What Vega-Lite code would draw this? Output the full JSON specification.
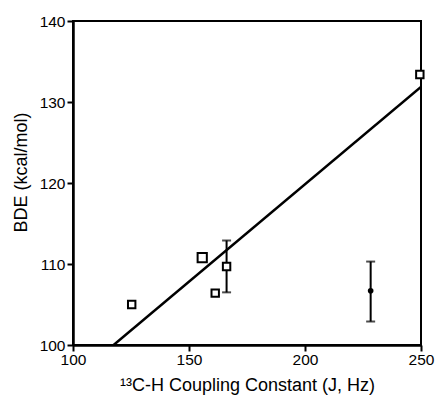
{
  "$schema": "https://vega.github.io/schema/vega-lite/v6.json",
  "autosize": {"type": "none"},
  "width": 348,
  "height": 324,
  "padding": {"left": 73, "top": 21, "right": 14, "bottom": 51},
  "background": "white",
  "config": {
    "font": "Liberation Sans",
    "view": {"stroke": "black", "strokeWidth": 2},
    "axis": {
      "domainColor": "black", "domainWidth": 2.5,
      "tickColor": "black", "tickWidth": 2, "tickSize": 6,
      "labelColor": "black", "labelFontSize": 15.5, "labelFont": "Liberation Sans",
      "titleColor": "black", "titleFontSize": 18, "titleFont": "Liberation Sans", "titleFontWeight": "normal",
      "grid": false
    }
  },
  "datasets": {
    "fit": [{"J": 117.5, "BDE": 100.0}, {"J": 250.5, "BDE": 132.0}],
    "errors": [
      {"J": 166.2, "lo": 106.5, "hi": 112.9},
      {"J": 228.3, "lo": 102.9, "hi": 110.3}
    ],
    "points": [
      {"J": 125.3, "BDE": 105.0, "kind": "small"},
      {"J": 155.7, "BDE": 110.8, "kind": "large"},
      {"J": 161.3, "BDE": 106.4, "kind": "small"},
      {"J": 166.2, "BDE": 109.7, "kind": "small"},
      {"J": 249.5, "BDE": 133.4, "kind": "small"}
    ],
    "dot": [{"J": 228.3, "BDE": 106.7}]
  },
  "encoding": {
    "x": {
      "field": "J", "type": "quantitative",
      "scale": {"domain": [100, 250], "nice": false, "zero": false},
      "axis": {"values": [100, 150, 200, 250], "title": "¹³C-H Coupling Constant (J, Hz)", "titlePadding": 9, "labelPadding": 1, "labelFlush": false}
    },
    "y": {
      "field": "BDE", "type": "quantitative",
      "scale": {"domain": [100, 140], "nice": false, "zero": false},
      "axis": {"values": [100, 110, 120, 130, 140], "title": "BDE (kcal/mol)", "titlePadding": 9, "titleY": 151, "labelPadding": 2, "labelFlush": false}
    }
  },
  "layer": [
    {
      "data": {"name": "fit"},
      "mark": {"type": "line", "color": "black", "strokeWidth": 2.5, "clip": true},
      "encoding": {}
    },
    {
      "data": {"name": "errors"},
      "mark": {"type": "rule", "color": "black", "strokeWidth": 2},
      "encoding": {"y": {"field": "lo", "type": "quantitative"}, "y2": {"field": "hi"}}
    },
    {
      "data": {"name": "errors"},
      "mark": {"type": "tick", "orient": "horizontal", "color": "black", "thickness": 2, "size": 9},
      "encoding": {"y": {"field": "lo", "type": "quantitative"}}
    },
    {
      "data": {"name": "errors"},
      "mark": {"type": "tick", "orient": "horizontal", "color": "black", "thickness": 2, "size": 9},
      "encoding": {"y": {"field": "hi", "type": "quantitative"}}
    },
    {
      "data": {"name": "points"},
      "transform": [{"filter": "datum.kind === 'small'"}],
      "mark": {"type": "point", "shape": "square", "filled": true, "fill": "white", "stroke": "black", "strokeWidth": 2, "size": 55, "opacity": 1}
    },
    {
      "data": {"name": "points"},
      "transform": [{"filter": "datum.kind === 'large'"}],
      "mark": {"type": "point", "shape": "square", "filled": true, "fill": "white", "stroke": "black", "strokeWidth": 2, "size": 85, "opacity": 1}
    },
    {
      "data": {"name": "dot"},
      "mark": {"type": "point", "shape": "circle", "filled": true, "color": "black", "size": 32, "opacity": 1}
    }
  ]
}
